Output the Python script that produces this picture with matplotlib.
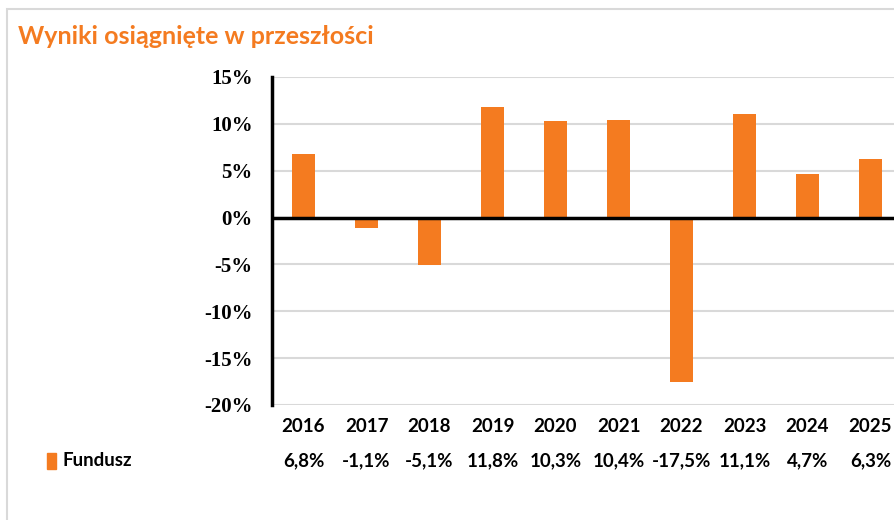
import matplotlib.pyplot as plt
import matplotlib.transforms as mtransforms
from matplotlib.patches import Rectangle

years = ['2016', '2017', '2018', '2019', '2020', '2021', '2022', '2023', '2024', '2025']
returns = [6.8, -1.1, -5.1, 11.8, 10.3, 10.4, -17.5, 11.1, 4.7, 6.3]
value_labels = ['6,8%', '-1,1%', '-5,1%', '11,8%', '10,3%', '10,4%', '-17,5%', '11,1%', '4,7%', '6,3%']
y_ticks = [15, 10, 5, 0, -5, -10, -15, -20]
series_name = 'Fundusz'
title = 'Wyniki osiągnięte w przeszłości'

orange = '#F47B20'
W, H = 894, 520

fig = plt.figure(figsize=(W / 100, H / 100), dpi=100)

# light grey frame around the card (only top and left visible)
fig.patches.append(Rectangle((7 / W, -0.1), 1.2, 1 - 9 / H + 0.1, transform=fig.transFigure,
                             fill=False, edgecolor='#d9d9d9', linewidth=1.5))

ax = fig.add_axes([272 / W, 1 - 405 / H, 630 / W, 328 / H])
x = range(len(years))
ax.bar(x, returns, width=0.35, color=orange, zorder=3)

ax.set_xlim(-0.5, len(years) - 0.5)
ax.set_ylim(-20, 15)
ax.set_yticks(y_ticks)
ax.set_yticklabels([f'{t}%' for t in y_ticks], fontfamily='Liberation Serif',
                   fontweight='bold', fontsize=15)
ax.tick_params(axis='y', length=0, pad=14)
ax.set_xticks([])
ax.grid(axis='y', color='#d9d9d9', linewidth=1.5, zorder=0)
for side in ['top', 'right', 'bottom']:
    ax.spines[side].set_visible(False)
ax.spines['left'].set_linewidth(2.5)
ax.axhline(0, color='black', linewidth=2.5, zorder=4)

# data table under the chart
trans = mtransforms.blended_transform_factory(ax.transData, fig.transFigure)
for i, (yr, lab) in enumerate(zip(years, value_labels)):
    ax.text(i, 1 - 426 / H, yr, transform=trans, ha='center', va='center',
            fontfamily='Lato', fontweight='bold', fontsize=13.5, clip_on=False)
    ax.text(i, 1 - 461 / H, lab, transform=trans, ha='center', va='center',
            fontfamily='Lato', fontweight='bold', fontsize=13.5, clip_on=False)

fig.patches.append(Rectangle((47 / W, 1 - 469 / H), 9 / W, 16 / H, transform=fig.transFigure,
                             color=orange))
fig.text(63 / W, 1 - 461 / H, series_name, ha='left', va='center',
         fontfamily='Lato', fontweight='bold', fontsize=13.5)

fig.text(18 / W, 1 - 37 / H, title, ha='left', va='center', color=orange,
         fontfamily='Lato', fontweight='bold', fontsize=18)

fig.savefig('out.png', dpi=100)
